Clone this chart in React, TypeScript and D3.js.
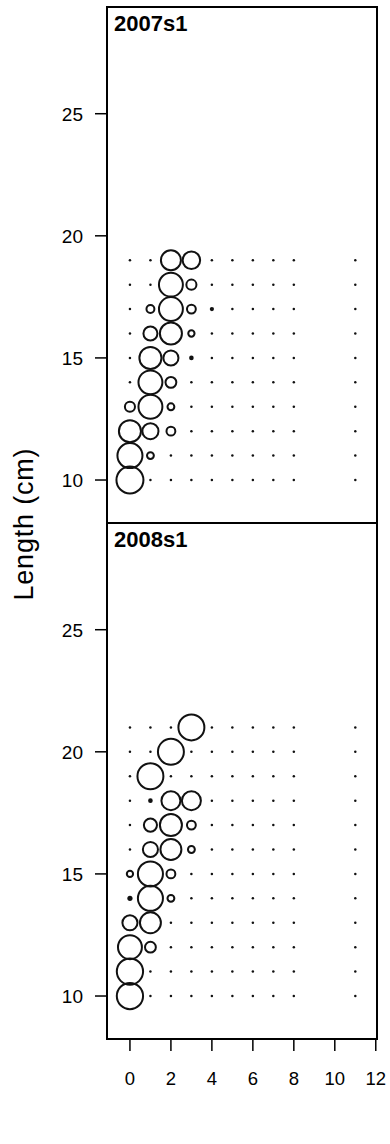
import React from "react";
import * as d3 from "d3";

const ages = [0, 1, 2, 3, 4, 5, 6, 7, 8, 11];
const xTicks = [0, 2, 4, 6, 8, 10, 12];
const yTicks = [10, 15, 20, 25];

// 2007s1: rows of length, values per age (relative proportion)
const lengths2007 = [10, 11, 12, 13, 14, 15, 16, 17, 18, 19];
const values2007 = [
  [0.93, 0, 0, 0, 0, 0, 0, 0, 0, 0],
  [0.8, 0.06, 0, 0, 0, 0, 0, 0, 0, 0],
  [0.62, 0.33, 0.1, 0, 0, 0, 0, 0, 0, 0],
  [0.13, 0.73, 0.06, 0, 0, 0, 0, 0, 0, 0],
  [0, 0.73, 0.15, 0, 0, 0, 0, 0, 0, 0],
  [0, 0.62, 0.29, 0.015, 0, 0, 0, 0, 0, 0],
  [0, 0.25, 0.62, 0.05, 0, 0, 0, 0, 0, 0],
  [0, 0.08, 0.73, 0.1, 0.012, 0, 0, 0, 0, 0],
  [0, 0, 0.73, 0.13, 0, 0, 0, 0, 0, 0],
  [0, 0, 0.51, 0.39, 0, 0, 0, 0, 0, 0],
];

// 2008s1
const lengths2008 = [10, 11, 12, 13, 14, 15, 16, 17, 18, 19, 20, 21];
const values2008 = [
  [0.88, 0, 0, 0, 0, 0, 0, 0, 0, 0],
  [0.88, 0, 0, 0, 0, 0, 0, 0, 0, 0],
  [0.73, 0.15, 0, 0, 0, 0, 0, 0, 0, 0],
  [0.29, 0.56, 0, 0, 0, 0, 0, 0, 0, 0],
  [0.02, 0.8, 0.06, 0, 0, 0, 0, 0, 0, 0],
  [0.05, 0.8, 0.1, 0, 0, 0, 0, 0, 0, 0],
  [0, 0.29, 0.56, 0.06, 0, 0, 0, 0, 0, 0],
  [0, 0.22, 0.62, 0.1, 0, 0, 0, 0, 0, 0],
  [0, 0.015, 0.46, 0.46, 0, 0, 0, 0, 0, 0],
  [0, 0.86, 0, 0, 0, 0, 0, 0, 0, 0],
  [0, 0, 0.86, 0, 0, 0, 0, 0, 0, 0],
  [0, 0, 0, 0.86, 0, 0, 0, 0, 0, 0],
];

const panels = [
  { label: "2007s1", lengths: lengths2007, values: values2007, top: 7, bottom: 523 },
  { label: "2008s1", lengths: lengths2008, values: values2008, top: 523, bottom: 1039 },
];

const FONT = "Liberation Sans, Arial, Helvetica, sans-serif";

export default function App() {
  const left = 107;
  const right = 377;
  const x = d3.scaleLinear().domain([-1.12, 12.06]).range([left, right]);
  const r = d3.scaleSqrt().domain([0, 1]).range([0, 14]);

  return (
    <svg
      width={390}
      height={1144}
      style={{ position: "absolute", left: 0, top: 0, background: "#fff" }}
      fontFamily={FONT}
    >
      <rect x={0} y={0} width={390} height={1144} fill="#fff" />
      {panels.map((p) => {
        const y = d3.scaleLinear().domain([8.24, 29.37]).range([p.bottom, p.top]);
        return (
          <g key={p.label}>
            {p.lengths.map((len, i) =>
              ages.map((a, j) => {
                const v = p.values[i][j];
                if (v <= 0) {
                  return <circle key={`${i}-${j}`} cx={x(a)} cy={y(len)} r={1.25} fill="#111" />;
                }
                const rr = r(v);
                if (rr < 2.2) {
                  return <circle key={`${i}-${j}`} cx={x(a)} cy={y(len)} r={rr + 0.6} fill="#111" />;
                }
                return (
                  <circle
                    key={`${i}-${j}`}
                    cx={x(a)}
                    cy={y(len)}
                    r={rr}
                    fill="none"
                    stroke="#111"
                    strokeWidth={2}
                  />
                );
              })
            )}
            <rect
              x={left}
              y={p.top}
              width={right - left}
              height={p.bottom - p.top}
              fill="none"
              stroke="#000"
              strokeWidth={2}
            />
            <text x={114} y={p.top + 24} fontSize={22} fontWeight="bold" fill="#000">
              {p.label}
            </text>
            {yTicks.map((t) => (
              <g key={t}>
                <line x1={left - 12} x2={left} y1={y(t)} y2={y(t)} stroke="#000" strokeWidth={1.5} />
                <text x={83} y={y(t) + 7} fontSize={19} textAnchor="end" fill="#000">
                  {t}
                </text>
              </g>
            ))}
          </g>
        );
      })}
      {xTicks.map((t) => (
        <g key={t}>
          <line x1={x(t)} x2={x(t)} y1={1039} y2={1051} stroke="#000" strokeWidth={1.5} />
          <text x={x(t)} y={1085} fontSize={18.5} textAnchor="middle" fill="#000">
            {t}
          </text>
        </g>
      ))}
      <text
        transform={`translate(32.5,524.5) rotate(-90)`}
        fontSize={27}
        textAnchor="middle"
        textLength={152}
        lengthAdjust="spacing"
        fill="#000"
      >
        Length (cm)
      </text>
    </svg>
  );
}
